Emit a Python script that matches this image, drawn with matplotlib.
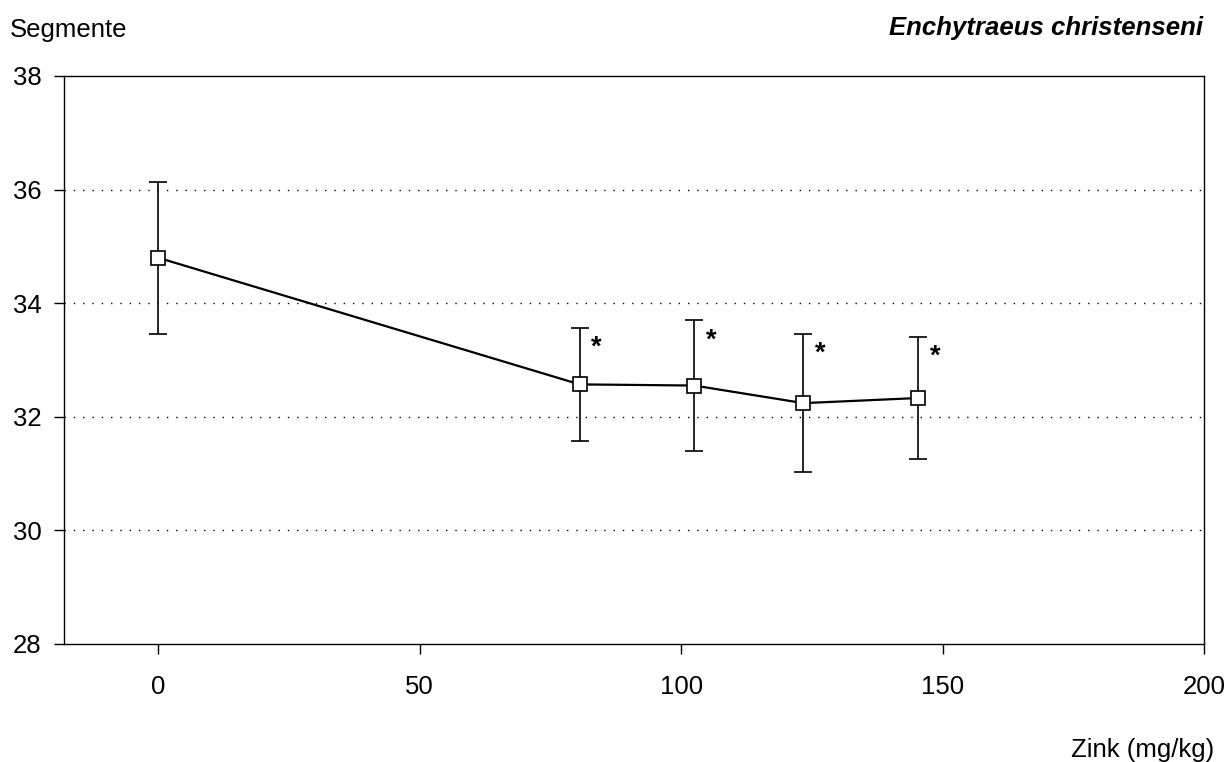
import numpy as np
import matplotlib.pyplot as plt

plt.rcParams['font.family'] = ['Liberation Sans', 'DejaVu Sans']

# Zink concentration (mg/kg) and mean segment number with error limits
zink = [0, 80.6, 102.5, 123.4, 145.3]
segmente = [34.80, 32.57, 32.55, 32.24, 32.33]
upper = [36.14, 33.57, 33.70, 33.46, 33.41]
lower = [33.45, 31.57, 31.40, 31.03, 31.26]
signif = [False, True, True, True, True]

y = np.array(segmente)
yerr = [y - np.array(lower), np.array(upper) - y]

fs = 18.5

fig = plt.figure(figsize=(12.24, 7.62), dpi=100)
ax = fig.add_axes([0.0523, 0.1549, 0.9314, 0.7454])

for g in [30, 32, 34, 36]:
    ax.axhline(g, color='black', linestyle=(0, (1, 5.7)), linewidth=1.0, zorder=1)

ax.errorbar(zink, segmente, yerr=yerr, color='black', linewidth=1.6,
            elinewidth=1.2, capsize=6.5, capthick=1.2, marker='s', markersize=10.5,
            markerfacecolor='white', markeredgecolor='black', markeredgewidth=1.2,
            zorder=3)

# significance stars right of the upper error limit
for xv, up, s in zip(zink, upper, signif):
    if s:
        ax.annotate('*', (xv, up), xytext=(17, -20), textcoords='offset pixels',
                    ha='center', va='center', fontsize=fs + 1, fontweight='bold')

ax.set_xlim(-18, 200)
ax.set_ylim(28, 38)
ax.set_xticks([0, 50, 100, 150, 200])
ax.set_yticks([28, 30, 32, 34, 36, 38])
ax.tick_params(direction='out', length=7, width=1, labelsize=fs)
ax.tick_params(axis='x', pad=15)
ax.tick_params(axis='y', pad=9)
for sp in ax.spines.values():
    sp.set_linewidth(1.0)

fig.text(10 / 1224, 1 - 37 / 762, 'Segmente', ha='left', va='baseline', fontsize=fs)
fig.text(1203 / 1224, 1 - 35.5 / 762, 'Enchytraeus christenseni', ha='right',
         va='baseline', fontsize=fs, fontweight='bold', fontstyle='italic')
fig.text(1214 / 1224, 1 - 757 / 762, 'Zink (mg/kg)', ha='right', va='baseline',
         fontsize=fs)

fig.savefig('out.png', dpi=100)
